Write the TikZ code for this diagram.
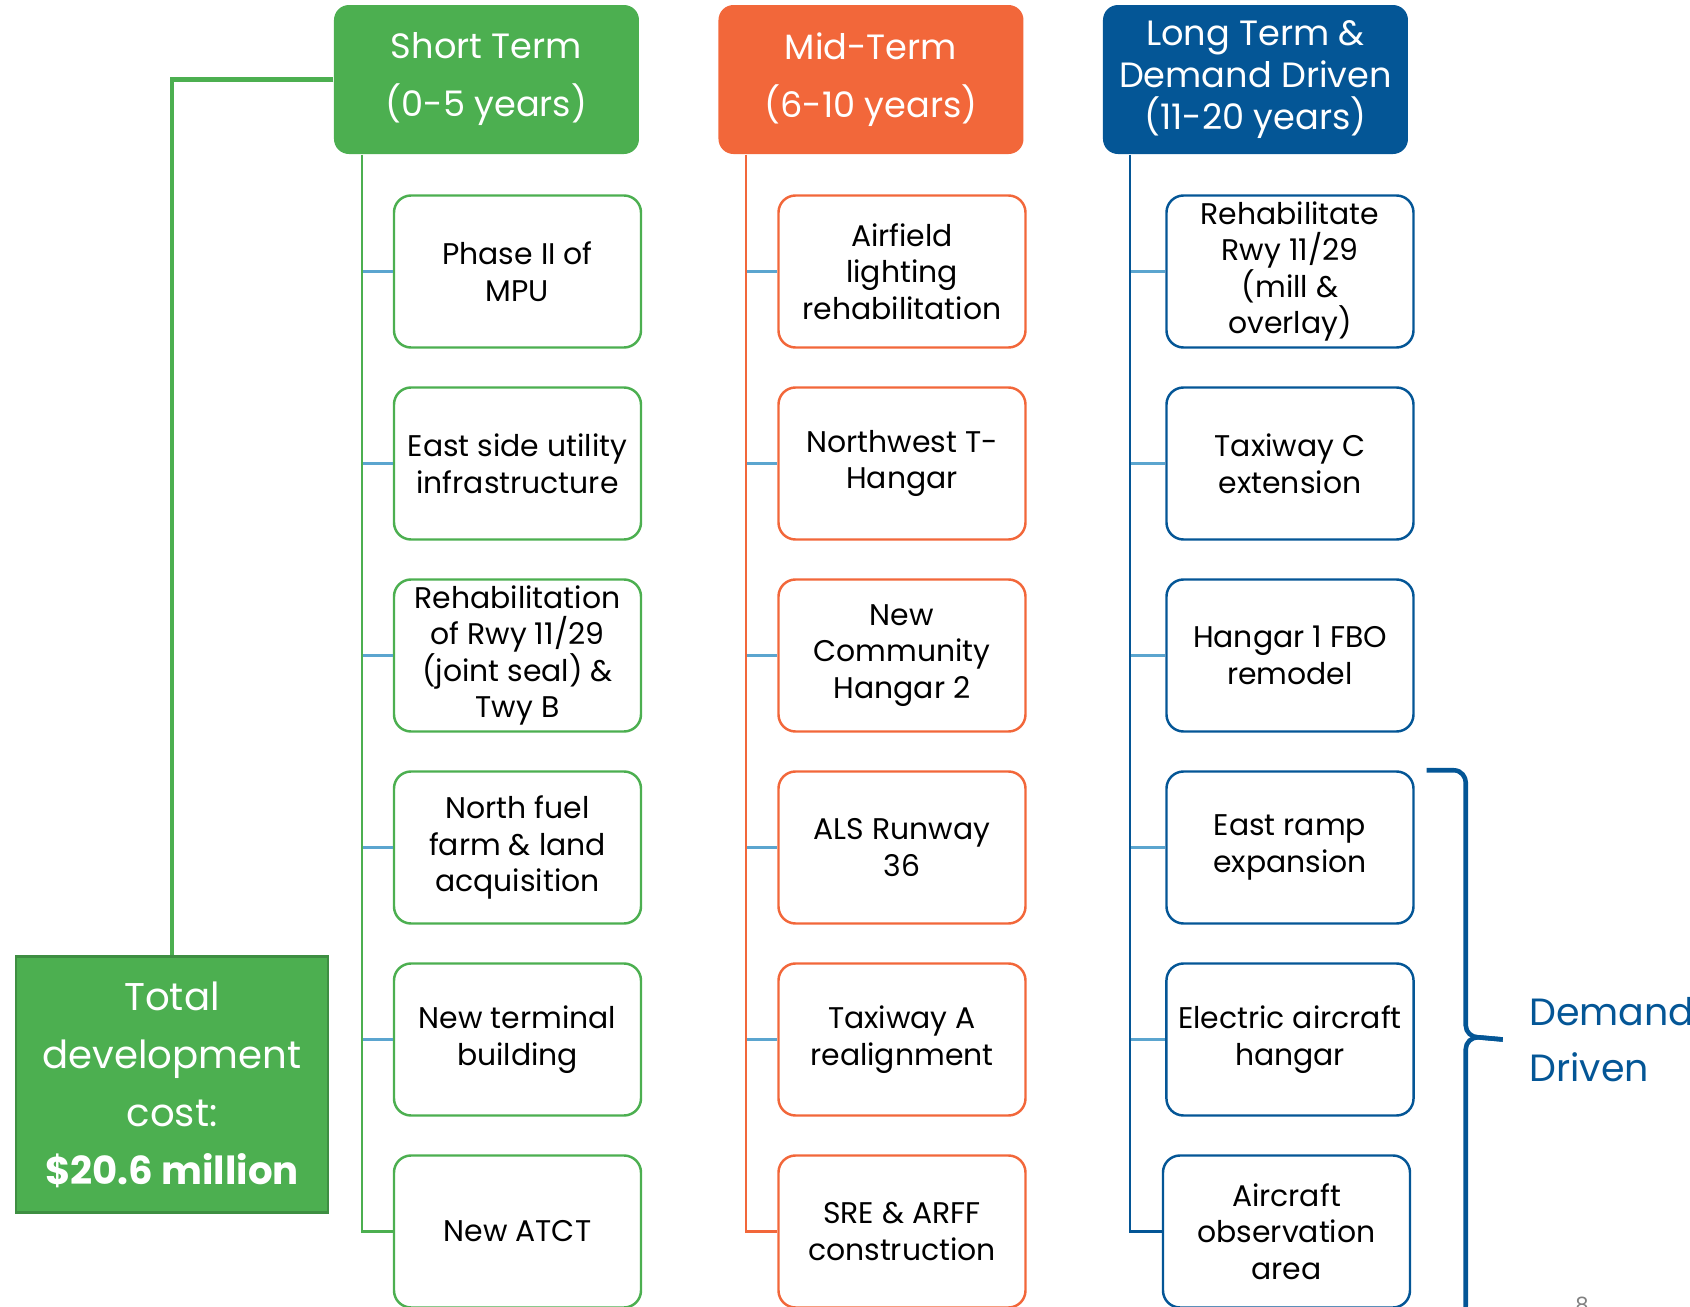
\documentclass[tikz,border=0pt]{standalone}
\usepackage{fontspec}
\setmainfont{Poppins}
\usetikzlibrary{positioning}
\definecolor{termgreen}{RGB}{76,175,80}
\definecolor{termorange}{RGB}{242,103,58}
\definecolor{termblue}{RGB}{4,86,150}
\definecolor{linkblue}{RGB}{91,165,207}
\definecolor{totalborder}{RGB}{62,142,66}
\definecolor{pagegray}{RGB}{128,128,128}
\tikzstyle{header} = [
rectangle, rounded corners=0.15cm, minimum width=3.05cm, minimum height=1.49cm,
align=center, text=white, font=\fontsize{10}{16.5}\selectfont
]
\tikzstyle{header_S} = [header, fill=termgreen]
\tikzstyle{header_M} = [header, fill=termorange]
\tikzstyle{header_L} = [header, fill=termblue, font=\fontsize{10}{12}\selectfont]
\tikzstyle{project} = [
rectangle, rounded corners=0.17cm, minimum width=2.47cm, minimum height=1.52cm,
inner ysep=0pt, align=center, fill=white, line width=0.7pt, font=\fontsize{8.5}{10.4}\selectfont
]
\tikzstyle{project_S} = [project, draw=termgreen]
\tikzstyle{project_M} = [project, draw=termorange]
\tikzstyle{project_L} = [project, draw=termblue]
\tikzstyle{total} = [
rectangle, minimum width=3.12cm, minimum height=2.56cm, align=center,
fill=termgreen, draw=totalborder, line width=0.8pt, text=white,
font=\fontsize{11}{16.5}\selectfont
]
\tikzstyle{trunk} = [line width=0.6pt]
\tikzstyle{link} = [line width=0.6pt, draw=linkblue]
\tikzstyle{brace_line} = [line width=1.3pt, draw=termblue, line join=round]
\tikzstyle{demand} = [inner sep=0pt, align=left, text=termblue, font=\fontsize{10.8}{16}\selectfont]

\begin{document}
\begin{tikzpicture}[node distance=1.92cm]
	\useasboundingbox (-4.865,0.795) rectangle (12.035,-12.275);

	% Headers
	\node (ST) [header_S] {Short Term\\(0-5 years)};
	\node (MT) [header_M, right of=ST, xshift=1.925cm] {Mid-Term\\(6-10 years)};
	\node (LT) [header_L, right of=MT, xshift=1.925cm] {Long Term \&\\Demand Driven\\(11-20 years)};

	% Short term projects
	\node (S1) [project_S, below of=ST, xshift=0.31cm] {Phase II of\\MPU};
	\node (S2) [project_S, below of=S1] {East side utility\\infrastructure};
	\node (S3) [project_S, below of=S2] {Rehabilitation\\of Rwy 11/29\\(joint seal) \&\\Twy B};
	\node (S4) [project_S, below of=S3] {North fuel\\farm \& land\\acquisition};
	\node (S5) [project_S, below of=S4] {New terminal\\building};
	\node (S6) [project_S, below of=S5] {New ATCT};

	% Mid term projects
	\node (M1) [project_M, below of=MT, xshift=0.31cm] {Airfield\\lighting\\rehabilitation};
	\node (M2) [project_M, below of=M1] {Northwest T-\\Hangar};
	\node (M3) [project_M, below of=M2] {New\\Community\\Hangar 2};
	\node (M4) [project_M, below of=M3] {ALS Runway\\36};
	\node (M5) [project_M, below of=M4] {Taxiway A\\realignment};
	\node (M6) [project_M, below of=M5] {SRE \& ARFF\\construction};

	% Long term projects
	\node (L1) [project_L, below of=LT, xshift=0.345cm] {Rehabilitate\\Rwy 11/29\\(mill \&\\overlay)};
	\node (L2) [project_L, below of=L1] {Taxiway C\\extension};
	\node (L3) [project_L, below of=L2] {Hangar 1 FBO\\remodel};
	\node (L4) [project_L, below of=L3] {East ramp\\expansion};
	\node (L5) [project_L, below of=L4] {Electric aircraft\\hangar};
	\node (L6) [project_L, below of=L5, xshift=-0.035cm] {Aircraft\\observation\\area};

	% Total
	\node (Total) [total, left of=S5, xshift=-1.535cm, yshift=-0.45cm] {Total\\development\\cost:\\\textbf{\$20.6 million}};
	\draw [trunk, line width=1.2pt, draw=termgreen] (ST.west) -| (Total.north);

	% Trunks
	\coordinate (trunk_S) at ([xshift=0.29cm]ST.south west);
	\coordinate (trunk_M) at ([xshift=0.28cm]MT.south west);
	\coordinate (trunk_L) at ([xshift=0.28cm]LT.south west);
	\foreach \i in {1,...,5} {
		\draw [link] (trunk_S |- S\i.west) -- (S\i.west);
		\draw [link] (trunk_M |- M\i.west) -- (M\i.west);
		\draw [link] (trunk_L |- L\i.west) -- (L\i.west);
	}
	\draw [trunk, draw=termgreen] (trunk_S) |- (S6.west);
	\draw [trunk, draw=termorange] (trunk_M) |- (M6.west);
	\draw [trunk, draw=termblue] (trunk_L) |- (L6.west);

	% Brace
	\coordinate (brace_top) at ([xshift=0.12cm]L4.north east);
	\coordinate (brace_bot) at ([yshift=-5.48cm]brace_top);
	\coordinate (brace_tip) at ([xshift=0.88cm]L5.east);
	\draw [brace_line] (brace_top) -- ++(0.27,0) .. controls +(0.08,0) and +(0,0.05) .. ++(0.12,-0.12)
		-- ++(0,-2.43) .. controls +(0,-0.07) and +(-0.06,0) .. ++(0.12,-0.12) -- (brace_tip);
	\draw [brace_line] (brace_bot) -- ++(0.27,0) .. controls +(0.08,0) and +(0,-0.05) .. ++(0.12,0.12)
		-- ++(0,2.57) .. controls +(0,0.07) and +(-0.06,0) .. ++(0.12,0.12) -- (brace_tip);
	\node (DD) [demand, right=0.26cm of brace_tip] {Demand\\Driven};

	% Page number
	\node (page_no) [anchor=north, inner sep=0pt, text=pagegray, font=\fontsize{6}{6}\selectfont] at (10.955,-12.165) {8};

\end{tikzpicture}
\end{document}
